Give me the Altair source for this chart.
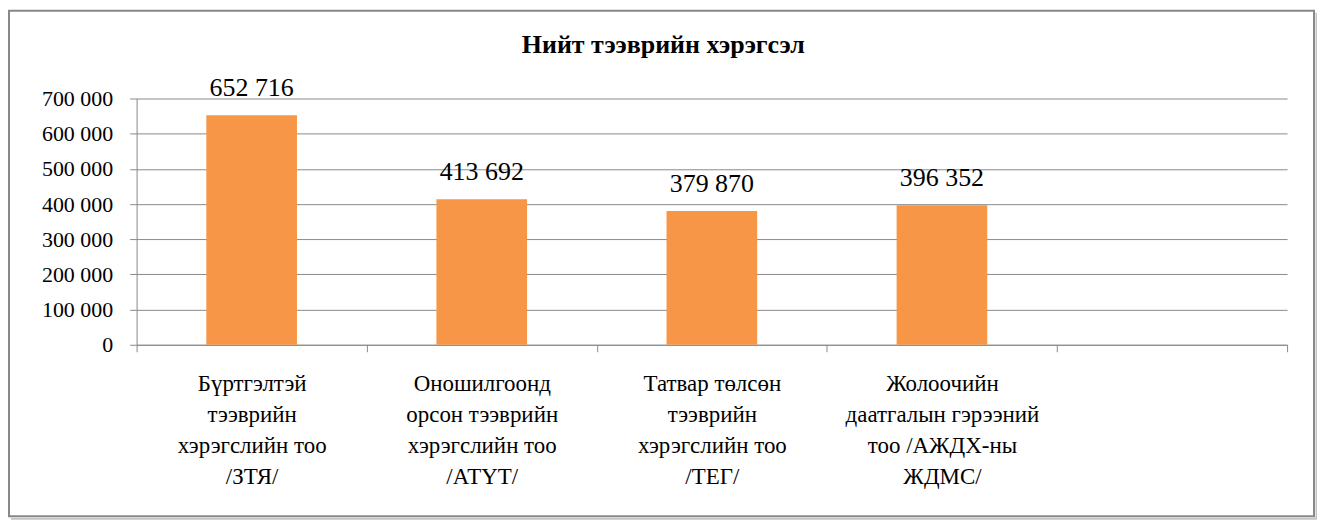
import altair as alt
import pandas as pd

title_text = "Нийт тээврийн хэрэгсэл"
categories = [
    "Бүртгэлтэй|тээврийн|хэрэгслийн тоо|/ЗТЯ/",
    "Оношилгоонд|орсон тээврийн|хэрэгслийн тоо|/АТҮТ/",
    "Татвар төлсөн|тээврийн|хэрэгслийн тоо|/ТЕГ/",
    "Жолоочийн|даатгалын гэрээний|тоо /АЖДХ-ны|ЖДМС/",
    " ",
]
values = [652716, 413692, 379870, 396352, None]
y_ticks = [0, 100000, 200000, 300000, 400000, 500000, 600000, 700000]

df = pd.DataFrame({"cat": categories, "val": values})

PLOT_W, PLOT_H = 1154, 247
FONT = "Liberation Serif, Times New Roman, serif"
GRAY = "#8a8a8a"

x_enc = alt.X(
    "cat:N",
    sort=categories,
    scale=alt.Scale(domain=categories, paddingInner=0, paddingOuter=0),
    axis=alt.Axis(
        title=None,
        labelAngle=0,
        labelExpr="isValid(datum.value) ? split(datum.value, '|') : ''",
        labelFont=FONT,
        labelFontSize=23,
        labelLineHeight=31,
        labelColor="#000000",
        labelPadding=21,
        labelLimit=0,
        labelOverlap=False,
        labelBound=False,
        tickBand="extent",
        ticks=True,
        tickSize=7,
        tickColor=GRAY,
        domainColor=GRAY,
        grid=False,
    ),
)

y_enc = alt.Y(
    "val:Q",
    scale=alt.Scale(domain=[0, 700000], nice=False),
    axis=alt.Axis(
        title=None,
        values=y_ticks,
        labelExpr="replace(format(datum.value, ','), regexp(',', 'g'), ' ')",
        labelFont=FONT,
        labelFontSize=22,
        labelColor="#000000",
        labelPadding=17,
        tickSize=7,
        tickColor=GRAY,
        domainColor=GRAY,
        grid=True,
        gridColor=GRAY,
        gridWidth=1,
    ),
)

base = alt.Chart(df).transform_filter("isValid(datum.val)")

bars = base.mark_bar(color="#F79646", width=alt.RelativeBandSize(0.394)).encode(
    x=x_enc, y=y_enc
)

labels = base.transform_calculate(
    lbl="replace(format(datum.val, ','), regexp(',', 'g'), ' ')"
).mark_text(
    font=FONT, fontSize=26, baseline="alphabetic", dy=-19, color="#000000"
).encode(x=x_enc, y=y_enc, text="lbl:N")

frame_df = pd.DataFrame({"k": [0]})
border = alt.Chart(frame_df).mark_rect(
    fill=None, fillOpacity=0, stroke="#888888", strokeWidth=2
).encode(
    x=alt.value(-128), x2=alt.value(1181), y=alt.value(-88), y2=alt.value(419)
)
shadow_r = alt.Chart(frame_df).mark_rule(stroke="#c4c4c4", strokeWidth=2).encode(
    x=alt.value(1183.5), y=alt.value(-86), y2=alt.value(421.5)
)
shadow_b = alt.Chart(frame_df).mark_rule(stroke="#c4c4c4", strokeWidth=2).encode(
    x=alt.value(-126), x2=alt.value(1184.5), y=alt.value(421.5)
)

chart = alt.layer(shadow_r, shadow_b, border, bars, labels).properties(
    width=PLOT_W,
    height=PLOT_H,
    title=alt.TitleParams(
        text=title_text,
        font=FONT,
        fontSize=26,
        fontWeight="bold",
        color="#000000",
        anchor="middle",
        frame="bounds",
        offset=-48,
    ),
    autosize=alt.AutoSizeParams(type="none"),
    padding={"left": 129, "top": 90, "right": 30, "bottom": 175},
    background="#ffffff",
).configure_view(stroke=None)

chart.save("out.html", embed_options={"renderer": "svg", "actions": False})
